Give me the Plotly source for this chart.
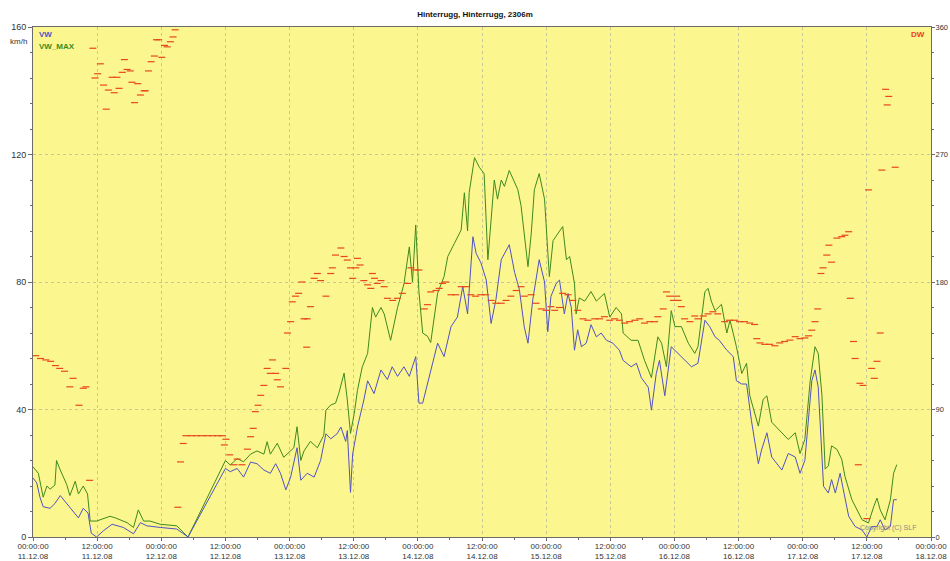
import pandas as pd
import plotly.graph_objects as go

START = pd.Timestamp("2008-12-11 00:00:00")

# Hours since 11.12.08 00:00 and mean wind speed VW (km/h)
vw_hours = [0.0, 0.7, 1.3, 1.9, 3.2, 4.1, 5.1, 6.3, 7.2, 8.5, 9.4, 10.3, 10.9, 11.9, 13.2, 14.8,
            16.9, 18.8, 20.1, 21.3, 23.8, 26.9, 29.0, 36.0, 36.9, 38.2, 39.4, 40.7, 41.9, 43.2,
            44.4, 45.4, 46.3, 47.3, 48.2, 49.4, 50.1, 51.3, 52.6, 53.8, 54.8, 55.7, 56.9, 57.6,
            58.5, 58.8, 59.4, 59.8, 60.7, 61.9, 62.6, 63.8, 65.1, 66.3, 67.2, 68.2, 69.4, 70.4,
            71.6, 72.2, 72.9, 73.8, 75.1, 75.7, 76.9, 78.2, 79.4, 80.4, 81.3, 82.3, 82.9, 83.8,
            84.8, 85.7, 86.6, 87.6, 89.1, 90.1, 91.0, 91.9, 92.6, 93.5, 94.7, 95.7, 96.3, 96.9,
            97.9, 98.5, 99.4, 100.1, 100.7, 101.3, 101.9, 102.6, 103.5, 104.4, 105.4, 106.3,
            107.3, 108.5, 109.7, 110.4, 111.9, 112.9, 113.8, 115.1, 115.7, 116.6, 117.2, 118.2,
            119.4, 120.7, 121.9, 123.2, 124.4, 125.7, 126.6, 127.6, 128.4, 129.8, 131.0, 131.6,
            132.6, 133.5, 134.4, 135.7, 136.3, 137.3, 138.2, 140.1, 141.3, 142.6, 143.5, 144.4,
            145.7, 146.3, 146.9, 147.9, 148.8, 149.4, 150.1, 151.0, 151.6, 152.6, 153.8, 155.1,
            156.0, 156.9, 157.9, 158.5, 159.4, 160.4, 161.0, 161.6]
vw_values = [18.5, 17, 12.5, 9.5, 9, 10.5, 13, 10.5, 9, 6, 9, 7.5, 1.2, 0, 2, 4,
             3, 1, 4.5, 3.5, 3, 2.5, 0, 21.5, 20.5, 21.5, 18.8, 23.5, 23, 21,
             20, 23, 20, 14.8, 18.8, 28, 17.8, 20, 18.8, 24, 32.4, 30.8, 32.4, 34.5,
             30, 33.4, 14, 26, 34.5, 43, 49, 45, 52.4, 49.4, 53.4, 50.4, 53.4, 50.4,
             56.6, 42, 42, 48, 57.6, 60.8, 56.6, 66, 69, 78.6, 70, 94.2, 89, 86,
             80.6, 67, 74.4, 87, 91.7, 83, 77.6, 66, 60.8, 74.4, 87, 80, 64.4, 75.5,
             79.6, 80.6, 70, 76.4, 72, 58.6, 65, 59.7, 60.8, 66.6, 62.8, 64,
             61.7, 60.8, 58.6, 55.4, 53.4, 54.5, 50, 47, 39.8, 51.3, 55.4, 44.3,
             59.7, 57.6, 55.4, 53.4, 54.5, 68, 66, 62.8, 61.7, 58.6, 56.6, 49,
             48, 48, 36.6, 23, 27.3, 32.7, 25.1, 21, 26.2, 25.1, 20, 24,
             49, 52.4, 47, 15.9, 13.8, 18, 13.8, 20, 14.8, 6.5, 3.3, 2.2,
             0, 3.3, 3.3, 5.4, 2.2, 3.3, 11.7, 11.7]

# Gust speed VW_MAX (km/h)
vwmax_hours = [0.0, 1.0, 1.9, 2.6, 3.2, 4.1, 4.4, 5.1, 6.3, 6.9, 7.9, 8.5, 9.4, 10.2, 10.7, 11.9,
               14.4, 15.4, 17.6, 18.8, 19.7, 20.7, 21.9, 23.8, 26.9, 29.0, 36.0, 36.9, 38.2,
               39.4, 40.7, 41.9, 43.2, 43.8, 44.4, 45.7, 46.9, 47.9, 48.8, 49.4, 50.1, 50.7,
               51.9, 53.2, 54.4, 54.8, 55.7, 56.6, 57.2, 58.2, 58.8, 59.4, 60.1, 60.7, 61.6,
               62.6, 63.5, 64.1, 65.1, 65.7, 66.9, 68.2, 69.4, 70.4, 71.0, 71.6, 72.2, 72.9,
               73.8, 74.4, 75.1, 75.7, 76.9, 77.6, 78.8, 80.1, 80.7, 81.3, 81.6, 82.6, 83.5,
               84.4, 85.1, 85.7, 86.3, 86.9, 87.6, 88.2, 89.1, 90.7, 91.3, 92.6, 93.2, 93.8,
               94.7, 95.7, 96.6, 97.3, 99.1, 99.8, 100.4, 101.3, 101.6, 102.2, 103.2, 104.4,
               105.4, 106.9, 107.9, 109.1, 110.1, 110.4, 111.9, 113.2, 114.4, 115.7, 116.9,
               117.6, 118.5, 119.4, 120.1, 121.3, 122.6, 123.8, 124.4, 125.7, 126.3, 126.9,
               127.6, 128.8, 129.8, 130.4, 131.6, 132.6, 133.5, 134.1, 135.1, 135.7, 136.6,
               137.3, 138.2, 139.4, 141.3, 142.6, 143.5, 144.4, 145.4, 146.3, 146.9, 147.6,
               148.2, 148.8, 149.4, 150.4, 151.3, 151.9, 153.2, 155.1, 156.3, 157.3, 157.9,
               158.5, 159.4, 160.4, 161.0, 161.6]
vwmax_values = [22, 20, 12.5, 16, 15, 16.3, 24, 21, 16.5, 13, 17.5, 13.5, 16, 13.5, 5, 5,
                6.5, 6, 4.5, 3, 8.5, 5, 5, 4, 3.5, 0, 24, 22.6, 24.6,
                23.6, 26, 27, 26, 29.9, 26, 29.4, 25, 26.6, 28, 34.6, 24, 27,
                30, 28, 31.9, 39.8, 41.4, 42, 45, 51.4, 43, 32.5, 38.8, 46, 53.4,
                57.6, 72, 69, 72, 70, 61.7, 72, 79.4, 91, 80, 97.9, 77, 64,
                63, 61, 70.2, 76.5, 81.7, 88, 92, 96.3, 108, 96, 108, 119, 116,
                114, 87, 99.5, 112, 106, 112, 110, 115, 109, 104, 84.8, 95, 109,
                114, 106, 81.7, 93, 97.4, 87, 88, 79.6, 70, 75, 74, 77,
                74, 76.4, 69, 72, 70, 64, 61.7, 61.7, 55.4, 50, 62.8,
                60.8, 53.4, 71, 66, 66, 60.8, 57.6, 59.7, 77, 78, 74,
                71, 73, 64, 68, 59.7, 51.3, 54.5, 44.3, 38, 34.8, 43.2,
                44.3, 36, 33.8, 30.6, 32.7, 26.2, 30.6, 49, 59.7, 57.6, 44.3,
                21.3, 22.3, 28.6, 27.5, 24.4, 19, 11.7, 5.4, 4.4, 9.6, 12.2,
                8.5, 5.4, 11.7, 20, 22.7]

# Wind direction DW (degrees)
dw_hours = [0.5, 1.4, 2.4, 3.3, 4.2, 5.0, 5.9, 6.9, 7.5, 8.6, 9.4, 9.9, 10.6, 11.2, 11.6, 12.1,
            12.6, 13.2, 13.7, 14.1, 14.8, 15.2, 15.7, 16.1, 16.7, 17.1, 17.6, 18.2, 18.5, 19.0,
            19.6, 20.1, 20.8, 21.0, 21.6, 22.1, 22.7, 23.1, 23.5, 24.1, 24.6, 25.1, 25.7, 26.2,
            26.6, 27.1, 27.6, 28.1, 28.6, 29.6, 30.6, 31.6, 32.6, 33.6, 34.6, 35.4, 35.8, 36.1,
            36.8, 37.6, 38.2, 39.1, 40.1, 40.7, 41.2, 41.6, 42.1, 42.6, 43.2, 43.8, 44.4, 44.8,
            45.4, 45.7, 46.3, 47.3, 47.6, 48.2, 48.5, 49.1, 49.7, 50.3, 50.7, 51.2, 51.3, 51.9,
            52.6, 53.2, 53.8, 54.8, 55.7, 56.0, 56.6, 57.6, 58.2, 58.8, 59.4, 59.8, 60.4, 60.7,
            61.2, 61.9, 62.6, 63.2, 63.5, 63.9, 64.4, 65.1, 65.7, 66.3, 67.3, 68.2, 69.1, 70.1,
            70.7, 71.6, 72.2, 73.2, 73.8, 74.4, 75.4, 76.0, 76.6, 77.2, 78.2, 79.1, 80.1, 80.9,
            81.9, 82.8, 83.8, 84.7, 85.7, 86.6, 87.6, 88.5, 89.4, 90.4, 91.3, 91.9, 93.2, 94.1,
            95.1, 96.0, 96.9, 97.6, 98.5, 99.1, 100.1, 101.0, 101.9, 102.9, 103.8, 105.1, 106.0,
            106.9, 107.9, 108.8, 109.7, 110.7, 111.6, 112.6, 113.5, 114.4, 115.4, 116.3, 116.9,
            117.9, 118.5, 119.1, 119.8, 120.4, 120.7, 121.3, 121.9, 122.9, 123.8, 124.4, 125.4,
            126.3, 127.2, 128.1, 129.4, 130.3, 131.3, 132.2, 133.1, 134.1, 135.0, 135.4, 136.0,
            136.9, 137.8, 138.8, 139.7, 140.6, 141.6, 142.6, 143.5, 144.4, 145.1, 145.7, 146.3,
            146.8, 147.4, 147.8, 148.5, 148.9, 149.4, 150.4, 151.3, 151.9, 152.6, 152.9, 153.5,
            153.8, 154.4, 154.7, 155.3, 156.0, 156.3, 156.9, 157.4, 157.9, 158.5, 158.8, 159.5,
            159.8, 160.1, 161.3]
dw_values = [128, 126, 125, 124, 121, 119, 117, 106, 112, 93, 105, 106, 40, 345, 324, 327,
             334, 319, 302, 315.5, 324.5, 313.6, 324.5, 316.7, 328, 337, 330, 329, 321, 306.6,
             320, 312, 315, 315, 329, 335.5, 339.5, 351, 351, 338.6, 347, 346, 349.6, 353,
             358, 21, 53, 66, 71.5, 71.5, 71.5, 71.5, 71.5, 71.5, 71.5, 71.5, 65, 69,
             58, 51, 55, 51, 62, 70.8, 76.7, 88.5, 93, 100, 107, 119, 115.5, 125,
             115.5, 111, 106, 119, 144, 152, 166, 170, 172, 180, 154, 134, 154, 162.6,
             182.6, 186, 181, 170, 186, 190, 199, 204, 198, 195.5, 190, 182.6, 190, 196.7,
             192, 181, 178, 175.5, 186, 182.6, 179, 181, 176.7, 168.5, 167, 168.5, 172, 179,
             190, 188.5, 188.5, 161, 164, 173, 174, 175.5, 179, 180, 171, 171, 176.7, 176.7,
             171, 170, 171, 171, 167, 165, 165, 167, 170, 174, 176.7, 170, 171, 165,
             161, 160, 162.6, 160, 162, 172, 171, 167, 160, 154, 153, 154, 154,
             155.5, 153, 154, 153, 151, 152, 153, 154, 151, 152, 152, 155.5,
             161, 173, 170, 167, 170, 167, 162.6, 154, 152, 156, 154, 156,
             157.5, 159, 157.5, 152, 153, 153, 152, 152, 151, 150, 140, 137,
             136, 136, 135, 137, 138, 139, 141.4, 140, 140.5, 142, 146, 152,
             161, 186, 190, 199, 206, 194, 211, 212, 213, 215.5, 168.5, 138,
             126, 51, 108.5, 107, 13, 245, 119, 112, 124, 144, 259, 316,
             305, 311, 261]

# Axis tick values
speed_ticks = [0, 40, 80, 120, 160]
dir_ticks = [0, 90, 180, 270, 360]


def to_time(hours):
    return START + pd.to_timedelta(hours, unit="h")


FONT = "Liberation Sans, Arial, sans-serif"
BLUE = "#5252c4"
GREEN = "#3f8a1c"
RED = "#e8461e"
GRID = "#c9c79a"
AXIS = "#6b6b6b"

fig = go.Figure()

fig.add_trace(go.Scatter(
    x=to_time(vwmax_hours), y=vwmax_values, mode="lines", name="VW_MAX",
    line=dict(color=GREEN, width=1), yaxis="y"))
fig.add_trace(go.Scatter(
    x=to_time(vw_hours), y=vw_values, mode="lines", name="VW",
    line=dict(color=BLUE, width=1), yaxis="y"))
fig.add_trace(go.Scatter(
    x=to_time(dw_hours), y=dw_values, mode="markers", name="DW",
    marker=dict(symbol="line-ew", size=5, color=RED, line=dict(color=RED, width=1.2)),
    yaxis="y2"))

fig.update_layout(
    width=950, height=561,
    margin=dict(l=33, r=19, t=27, b=24),
    paper_bgcolor="white",
    plot_bgcolor="#fbf68e",
    showlegend=False,
    font=dict(family=FONT, size=9, color="#333333"),
    title=dict(text="<b>Hinterrugg, Hinterrugg, 2306m</b>", x=0.5, xanchor="center",
               y=0.975, yanchor="middle", font=dict(size=8, color="#111111", family=FONT)),
    xaxis=dict(
        type="date", automargin=False,
        range=[START, START + pd.Timedelta(hours=168)],
        tick0=START, dtick=12 * 3600 * 1000,
        tickformat="%H:%M:%S<br>%d.%m.%y",
        ticks="outside", ticklen=3, tickcolor=AXIS,
        ticklabelstandoff=-2,
        showline=True, linecolor=AXIS, linewidth=1, mirror=True,
        showgrid=True, gridcolor=GRID, griddash="dot", gridwidth=1,
        minor=dict(dtick=6 * 3600 * 1000, ticks="outside", ticklen=2, tickcolor=AXIS, showgrid=False),
        tickfont=dict(size=8, color="#333333"),
        zeroline=False,
    ),
    yaxis=dict(
        range=[0, 160], tickvals=speed_ticks, automargin=False,
        ticks="outside", ticklen=4, tickcolor=AXIS,
        showline=True, linecolor=AXIS, linewidth=1,
        showgrid=True, gridcolor=GRID, griddash="dot", gridwidth=1,
        minor=dict(dtick=8, ticks="outside", ticklen=2, tickcolor=AXIS, showgrid=False),
        tickfont=dict(size=9, color="#333333"),
        zeroline=False,
    ),
    yaxis2=dict(
        range=[0, 360], tickvals=dir_ticks, overlaying="y", side="right", automargin=False,
        ticks="outside", ticklen=3, tickcolor=AXIS,
        ticklabelstandoff=-1,
        showline=True, linecolor=AXIS, linewidth=1,
        showgrid=False,
        minor=dict(dtick=18, ticks="outside", ticklen=2, tickcolor=AXIS, showgrid=False),
        tickfont=dict(size=7.5, color="#333333"),
        zeroline=False,
    ),
)

annotations = [
    dict(text="km/h", xref="paper", yref="paper", x=-0.005, y=0.985, xanchor="right",
         yanchor="top", showarrow=False, font=dict(size=8, color="#333333", family=FONT)),
    dict(text="<b>VW</b>", xref="paper", yref="paper", x=0.004, y=0.998, xanchor="left",
         yanchor="top", showarrow=False, font=dict(size=8, color=BLUE, family=FONT)),
    dict(text="<b>VW_MAX</b>", xref="paper", yref="paper", x=0.004, y=0.975, xanchor="left",
         yanchor="top", showarrow=False, font=dict(size=8, color=GREEN, family=FONT)),
    dict(text="<b>DW</b>", xref="paper", yref="paper", x=0.996, y=0.998, xanchor="right",
         yanchor="top", showarrow=False, font=dict(size=8, color=RED, family=FONT)),
    dict(text="Copyright (C) SLF", xref="paper", yref="paper", x=0.985, y=0.005,
         xanchor="right", yanchor="bottom", showarrow=False,
         font=dict(size=7, color="#8a8a8a", family=FONT)),
]
fig.update_layout(annotations=annotations)

fig.write_html("out.html")
